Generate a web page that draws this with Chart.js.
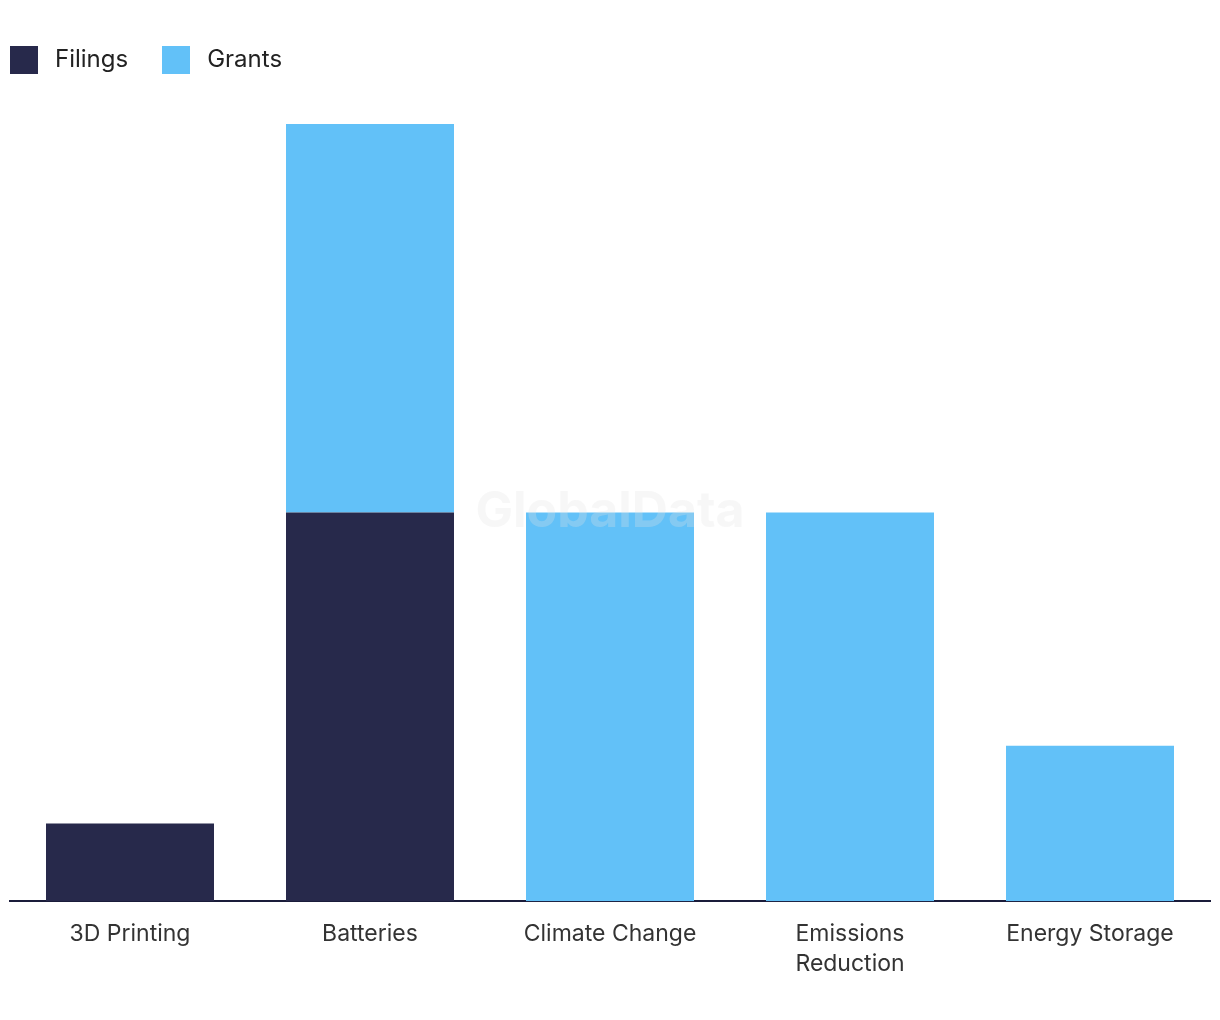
<!DOCTYPE html>
<html>
<head>
<meta charset="utf-8">
<script src="https://cdn.jsdelivr.net/npm/chart.js@4"></script>
<style>
  html, body { margin: 0; padding: 0; background: #fff; }
  #wrap { position: relative; width: 1220px; height: 1020px; }
  #legend { position: absolute; left: 10px; top: 46px; height: 28px; display: flex; font-family: Inter, "Noto Sans", sans-serif; font-size: 24px; color: #222; }
  .item { display: flex; align-items: center; margin-right: 34px; }
  .item span:last-child { position: relative; top: -2px; }
  .box { width: 28px; height: 28px; margin-right: 17px; }
</style>
</head>
<body>
<div id="wrap">
  <div id="legend"></div>
  <canvas id="chart" width="1220" height="1020"></canvas>
</div>
<script>
const categories = ["3D Printing", "Batteries", "Climate Change", ["Emissions", "Reduction"], "Energy Storage"];
const filings = [1, 5, 0, 0, 0];
const grants = [0, 5, 5, 5, 2];
const seriesNames = ["Filings", "Grants"];
const colors = ["#27294b", "#62c1f8"];

function $(id) { return document.getElementById(id); }

const legend = $("legend");
seriesNames.forEach((name, i) => {
  const d = document.createElement("div");
  d.className = "item";
  d.innerHTML = `<span class="box" style="background:${colors[i]}"></span><span>${name}</span>`;
  legend.appendChild(d);
});

const watermark = {
  id: "watermark",
  afterDatasetsDraw(chart) {
    const { ctx, chartArea } = chart;
    ctx.save();
    ctx.font = "bold 50px Inter, 'Noto Sans', sans-serif";
    ctx.fillStyle = "rgba(225,225,225,0.28)";
    ctx.textAlign = "center";
    ctx.textBaseline = "middle";
    ctx.fillText("GlobalData", (chartArea.left + chartArea.right) / 2, 512);
    ctx.restore();
  }
};

new Chart($("chart").getContext("2d"), {
  type: "bar",
  data: {
    labels: categories,
    datasets: [
      { label: seriesNames[0], data: filings, backgroundColor: colors[0] },
      { label: seriesNames[1], data: grants, backgroundColor: colors[1] }
    ]
  },
  options: {
    responsive: false,
    animation: false,
    layout: { padding: { top: 124, left: 10, right: 10, bottom: 31 } },
    datasets: { bar: { barPercentage: 0.7, categoryPercentage: 1 } },
    plugins: { legend: { display: false }, tooltip: { enabled: false } },
    scales: {
      x: {
        stacked: true,
        grid: { display: false },
        border: { color: "#1a1c3a", width: 2 },
        ticks: {
          color: "#333",
          font: { family: "Inter, 'Noto Sans', sans-serif", size: 23, lineHeight: 1.3 },
          padding: 10,
          maxRotation: 0
        }
      },
      y: { stacked: true, display: false, min: 0, max: 10 }
    }
  },
  plugins: [watermark]
});
</script>
</body>
</html>
